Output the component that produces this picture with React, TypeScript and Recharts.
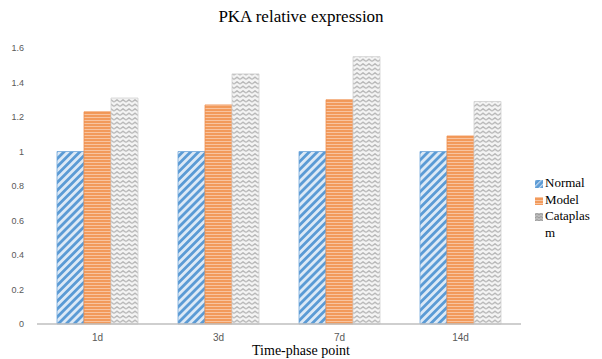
import React from "react";
import { BarChart, Bar, XAxis, YAxis } from "recharts";

const categories = ["1d", "3d", "7d", "14d"];
const normalValues = [1, 1, 1, 1];
const modelValues = [1.23, 1.27, 1.3, 1.09];
const cataplasmValues = [1.31, 1.45, 1.55, 1.29];
const yTicks = [0, 0.2, 0.4, 0.6, 0.8, 1, 1.2, 1.4, 1.6];
const seriesNames = ["Normal", "Model", "Cataplasm"];
const legendLines = [["Normal"], ["Model"], ["Cataplas", "m"]];

const data = categories.map((c, i) => ({
  name: c,
  Normal: normalValues[i],
  Model: modelValues[i],
  Cataplasm: cataplasmValues[i],
}));

const fills = ["url(#pNormal)", "url(#pModel)", "url(#pCata)"];
const strokes = ["#6FA6DA", "#F0914F", "#D0D0D0"];
const legendFills = ["url(#lNormal)", "url(#pModel)", "url(#lCata)"];

const fmt = (v: number) => String(v);

export default function App() {
  return (
    <div style={{ position: "absolute", left: 0, top: 0, width: 602, height: 359, background: "#fff", fontFamily: "'Liberation Serif', serif" }}>
      <svg width={0} height={0} style={{ position: "absolute" }}>
        <defs>
          <pattern id="pNormal" patternUnits="userSpaceOnUse" width="5.6" height="8" patternTransform="rotate(45)">
            <rect width="5.6" height="8" fill="#DCE9F6" />
            <rect x="0" y="0" width="2.8" height="8" fill="#5B9BD5" />
          </pattern>
          <pattern id="lNormal" patternUnits="userSpaceOnUse" width="4" height="4" patternTransform="rotate(45)">
            <rect width="4" height="4" fill="#5B9BD5" />
            <rect x="0" y="0" width="1.2" height="4" fill="#C6DAF0" />
          </pattern>
          <pattern id="pModel" patternUnits="userSpaceOnUse" width="6" height="3">
            <rect width="6" height="3" fill="#F29A5B" />
            <rect x="0" y="0" width="6" height="1" fill="#F8C4A0" />
          </pattern>
          <pattern id="pCata" patternUnits="userSpaceOnUse" width="6" height="4.5">
            <rect width="6" height="4.5" fill="#F4F4F4" />
            <polyline points="0,3 3,0.8 6,3" fill="none" stroke="#AFAFAF" strokeWidth="1.2" />
          </pattern>
          <pattern id="lCata" patternUnits="userSpaceOnUse" width="4" height="3">
            <rect width="4" height="3" fill="#BDBDBD" />
            <polyline points="0,2 2,0.5 4,2" fill="none" stroke="#9A9A9A" strokeWidth="1" />
          </pattern>
        </defs>
      </svg>
      <div style={{ position: "absolute", left: 0, width: 602, top: 7, textAlign: "center", fontSize: 17, color: "#000" }}>
        PKA relative expression
      </div>
      <BarChart
        width={602}
        height={359}
        data={data}
        margin={{ top: 48, right: 81, bottom: 0, left: 0 }}
        barGap={0}
        barSize={27}
      >
        <XAxis
          dataKey="name"
          axisLine={{ stroke: "#BFBFBF", strokeWidth: 1.5 }}
          tickLine={false}
          height={35}
          tick={{ fontSize: 10, fill: "#595959", fontFamily: "'Liberation Sans', sans-serif" }}
          tickMargin={4}
        />
        <YAxis
          width={37}
          domain={[0, 1.6]}
          ticks={yTicks}
          tickFormatter={fmt}
          axisLine={false}
          tickLine={false}
          tickMargin={7}
          tick={{ fontSize: 9, fill: "#595959", fontFamily: "'Liberation Sans', sans-serif" }}
          interval={0}
        />
        {seriesNames.map((s, i) => (
          <Bar key={s} dataKey={s} fill={fills[i]} stroke={strokes[i]} strokeWidth={0.8} isAnimationActive={false} />
        ))}
      </BarChart>
      <div style={{ position: "absolute", left: 0, width: 602, top: 343, textAlign: "center", fontSize: 14, lineHeight: "16px", color: "#000" }}>
        Time-phase point
      </div>
      <div style={{ position: "absolute", left: 535, top: 175, fontSize: 13, lineHeight: "16.5px", color: "#000" }}>
        {legendLines.map((lines, i) => (
          <div key={i} style={{ position: "relative", paddingLeft: 10 }}>
            <svg width={8} height={8} style={{ position: "absolute", left: 0, top: 5 }}>
              <rect width={8} height={8} fill={legendFills[i]} />
            </svg>
            {lines.map((l, j) => (
              <div key={j}>{l}</div>
            ))}
          </div>
        ))}
      </div>
    </div>
  );
}
